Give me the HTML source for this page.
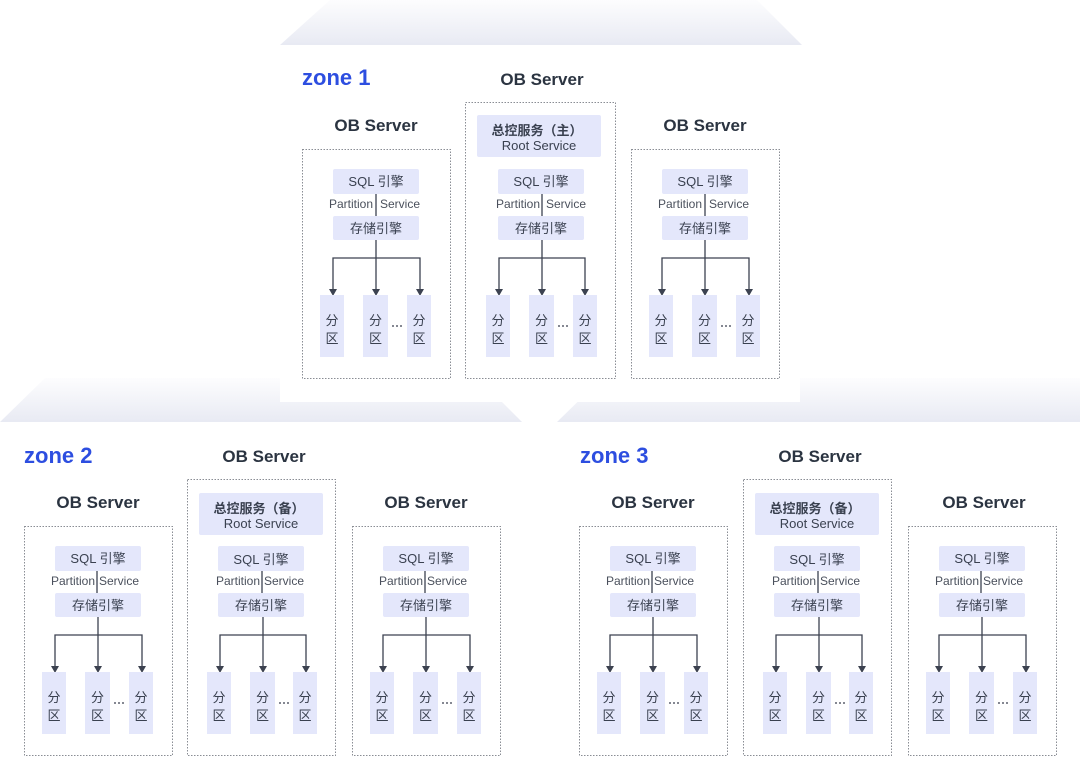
<!DOCTYPE html>
<html><head><meta charset="utf-8"><style>
html,body{margin:0;padding:0;background:#fff;}
svg{display:block;}
text{font-family:"Liberation Sans","Noto Sans CJK SC",sans-serif;}
.t{font-size:17px;fill:#2b3441;text-anchor:middle;font-weight:bold;}
.z{font-size:22px;fill:#2d4ee0;font-weight:bold;}
.s{font-size:13px;fill:#3a4150;text-anchor:middle;}
.p{font-size:12px;fill:#4a505c;}
.box{fill:none;stroke:#8a8d94;stroke-width:1;stroke-dasharray:1.5 1.5;}
.f{fill:#e4e7fb;}
.ln{stroke:#3c4250;stroke-width:1.3;fill:none;}
.ah{fill:#3c4250;}
</style></head><body>
<svg width="1080" height="780" viewBox="0 0 1080 780" xmlns="http://www.w3.org/2000/svg">
<defs>
<linearGradient id="g" x1="0" y1="0" x2="0" y2="1">
<stop offset="0" stop-color="#fdfdfe"/><stop offset="1" stop-color="#e8eaf3"/>
</linearGradient>
</defs>
<polygon points="45,378 478,378 522,422 0,422" fill="url(#g)"/>
<polygon points="602,378 1080,378 1080,422 557,422" fill="url(#g)"/>
<polygon points="330,0 757,0 802,45 280,45" fill="url(#g)"/>
<rect x="280" y="45" width="520" height="357" fill="#fff"/>

<text class="z" x="302" y="85">zone 1</text>
<text class="z" x="24" y="463">zone 2</text>
<text class="z" x="580" y="463">zone 3</text>

<!-- Zone1 left -->
<g transform="translate(302,149)">
<text class="t" x="74" y="-18">OB Server</text>
<rect class="box" x="0.5" y="0.5" width="148" height="229"/>
<rect class="f" x="31" y="20" width="86" height="25" rx="2"/><text class="s" x="74" y="37">SQL 引擎</text>
<text class="p" x="71" y="59" text-anchor="end">Partition</text><text class="p" x="78" y="59">Service</text>
<line class="ln" x1="74" y1="45" x2="74" y2="67"/>
<rect class="f" x="31" y="67" width="86" height="24" rx="2"/><text class="s" x="74" y="84">存储引擎</text>
<path class="ln" d="M74 91V109M31 140V109H118V140M74 109V140"/>
<path class="ah" d="M27 140h8l-4 7zM70 140h8l-4 7zM114 140h8l-4 7z"/>
<rect class="f" x="18" y="146" width="24" height="62"/><rect class="f" x="61" y="146" width="25" height="62"/><rect class="f" x="105" y="146" width="24" height="62"/>
<text class="s" x="30" y="176">分</text><text class="s" x="30" y="194">区</text>
<text class="s" x="73.5" y="176">分</text><text class="s" x="73.5" y="194">区</text>
<text class="s" x="117" y="176">分</text><text class="s" x="117" y="194">区</text>
<path class="ln" d="M90 177h2M94 177h2M98 177h2" stroke-width="2"/>
</g>
<!-- Zone1 middle -->
<g transform="translate(465,149)">
<text class="t" x="77" y="-64">OB Server</text>
<rect class="box" x="0.5" y="-46.5" width="150" height="276"/>
<rect class="f" x="12" y="-34" width="124" height="42" rx="2"/>
<text class="s" x="72" y="-14" style="font-weight:bold">总控服务（主）</text><text class="s" x="74" y="1">Root Service</text>
<rect class="f" x="33" y="20" width="86" height="25" rx="2"/><text class="s" x="76" y="37">SQL 引擎</text>
<text class="p" x="75" y="59" text-anchor="end">Partition</text><text class="p" x="81" y="59">Service</text>
<line class="ln" x1="77" y1="45" x2="77" y2="67"/>
<rect class="f" x="33" y="67" width="86" height="24" rx="2"/><text class="s" x="76" y="84">存储引擎</text>
<path class="ln" d="M77 91V109M34 140V109H120V140M77 109V140"/>
<path class="ah" d="M30 140h8l-4 7zM73 140h8l-4 7zM116 140h8l-4 7z"/>
<rect class="f" x="21" y="146" width="24" height="62"/><rect class="f" x="64" y="146" width="25" height="62"/><rect class="f" x="108" y="146" width="24" height="62"/>
<text class="s" x="33" y="176">分</text><text class="s" x="33" y="194">区</text>
<text class="s" x="76.5" y="176">分</text><text class="s" x="76.5" y="194">区</text>
<text class="s" x="120" y="176">分</text><text class="s" x="120" y="194">区</text>
<path class="ln" d="M93 177h2M97 177h2M101 177h2" stroke-width="2"/>
</g>
<!-- Zone1 right -->
<g transform="translate(631,149)">
<text class="t" x="74" y="-18">OB Server</text>
<rect class="box" x="0.5" y="0.5" width="148" height="229"/>
<rect class="f" x="31" y="20" width="86" height="25" rx="2"/><text class="s" x="74" y="37">SQL 引擎</text>
<text class="p" x="71" y="59" text-anchor="end">Partition</text><text class="p" x="78" y="59">Service</text>
<line class="ln" x1="74" y1="45" x2="74" y2="67"/>
<rect class="f" x="31" y="67" width="86" height="24" rx="2"/><text class="s" x="74" y="84">存储引擎</text>
<path class="ln" d="M74 91V109M31 140V109H118V140M74 109V140"/>
<path class="ah" d="M27 140h8l-4 7zM70 140h8l-4 7zM114 140h8l-4 7z"/>
<rect class="f" x="18" y="146" width="24" height="62"/><rect class="f" x="61" y="146" width="25" height="62"/><rect class="f" x="105" y="146" width="24" height="62"/>
<text class="s" x="30" y="176">分</text><text class="s" x="30" y="194">区</text>
<text class="s" x="73.5" y="176">分</text><text class="s" x="73.5" y="194">区</text>
<text class="s" x="117" y="176">分</text><text class="s" x="117" y="194">区</text>
<path class="ln" d="M90 177h2M94 177h2M98 177h2" stroke-width="2"/>
</g>

<!-- Zone2 left -->
<g transform="translate(24,526)">
<text class="t" x="74" y="-18">OB Server</text>
<rect class="box" x="0.5" y="0.5" width="148" height="229"/>
<rect class="f" x="31" y="20" width="86" height="25" rx="2"/><text class="s" x="74" y="37">SQL 引擎</text>
<text class="p" x="71" y="59" text-anchor="end">Partition</text><text class="p" x="75" y="59">Service</text>
<line class="ln" x1="73" y1="45" x2="73" y2="67"/>
<rect class="f" x="31" y="67" width="86" height="24" rx="2"/><text class="s" x="74" y="84">存储引擎</text>
<path class="ln" d="M74 91V109M31 140V109H118V140M74 109V140"/>
<path class="ah" d="M27 140h8l-4 7zM70 140h8l-4 7zM114 140h8l-4 7z"/>
<rect class="f" x="18" y="146" width="24" height="62"/><rect class="f" x="61" y="146" width="25" height="62"/><rect class="f" x="105" y="146" width="24" height="62"/>
<text class="s" x="30" y="176">分</text><text class="s" x="30" y="194">区</text>
<text class="s" x="73.5" y="176">分</text><text class="s" x="73.5" y="194">区</text>
<text class="s" x="117" y="176">分</text><text class="s" x="117" y="194">区</text>
<path class="ln" d="M90 177h2M94 177h2M98 177h2" stroke-width="2"/>
</g>
<!-- Zone2 middle -->
<g transform="translate(187,526)">
<text class="t" x="77" y="-64">OB Server</text>
<rect class="box" x="0.5" y="-46.5" width="148" height="276"/>
<rect class="f" x="12" y="-33" width="124" height="42" rx="2"/>
<text class="s" x="72" y="-13" style="font-weight:bold">总控服务（备）</text><text class="s" x="74" y="2">Root Service</text>
<rect class="f" x="31" y="20" width="86" height="25" rx="2"/><text class="s" x="74" y="38">SQL 引擎</text>
<text class="p" x="73" y="59" text-anchor="end">Partition</text><text class="p" x="77" y="59">Service</text>
<line class="ln" x1="75" y1="45" x2="75" y2="67"/>
<rect class="f" x="31" y="67" width="86" height="24" rx="2"/><text class="s" x="74" y="84">存储引擎</text>
<path class="ln" d="M76 91V109M33 140V109H119V140M76 109V140"/>
<path class="ah" d="M29 140h8l-4 7zM72 140h8l-4 7zM115 140h8l-4 7z"/>
<rect class="f" x="20" y="146" width="24" height="62"/><rect class="f" x="63" y="146" width="25" height="62"/><rect class="f" x="106" y="146" width="24" height="62"/>
<text class="s" x="32" y="176">分</text><text class="s" x="32" y="194">区</text>
<text class="s" x="75.5" y="176">分</text><text class="s" x="75.5" y="194">区</text>
<text class="s" x="118" y="176">分</text><text class="s" x="118" y="194">区</text>
<path class="ln" d="M92 177h2M96 177h2M100 177h2" stroke-width="2"/>
</g>
<!-- Zone2 right -->
<g transform="translate(352,526)">
<text class="t" x="74" y="-18">OB Server</text>
<rect class="box" x="0.5" y="0.5" width="148" height="229"/>
<rect class="f" x="31" y="20" width="86" height="25" rx="2"/><text class="s" x="74" y="37">SQL 引擎</text>
<text class="p" x="71" y="59" text-anchor="end">Partition</text><text class="p" x="75" y="59">Service</text>
<line class="ln" x1="73" y1="45" x2="73" y2="67"/>
<rect class="f" x="31" y="67" width="86" height="24" rx="2"/><text class="s" x="74" y="84">存储引擎</text>
<path class="ln" d="M74 91V109M31 140V109H118V140M74 109V140"/>
<path class="ah" d="M27 140h8l-4 7zM70 140h8l-4 7zM114 140h8l-4 7z"/>
<rect class="f" x="18" y="146" width="24" height="62"/><rect class="f" x="61" y="146" width="25" height="62"/><rect class="f" x="105" y="146" width="24" height="62"/>
<text class="s" x="30" y="176">分</text><text class="s" x="30" y="194">区</text>
<text class="s" x="73.5" y="176">分</text><text class="s" x="73.5" y="194">区</text>
<text class="s" x="117" y="176">分</text><text class="s" x="117" y="194">区</text>
<path class="ln" d="M90 177h2M94 177h2M98 177h2" stroke-width="2"/>
</g>

<!-- Zone3 left -->
<g transform="translate(579,526)">
<text class="t" x="74" y="-18">OB Server</text>
<rect class="box" x="0.5" y="0.5" width="148" height="229"/>
<rect class="f" x="31" y="20" width="86" height="25" rx="2"/><text class="s" x="74" y="37">SQL 引擎</text>
<text class="p" x="71" y="59" text-anchor="end">Partition</text><text class="p" x="75" y="59">Service</text>
<line class="ln" x1="73" y1="45" x2="73" y2="67"/>
<rect class="f" x="31" y="67" width="86" height="24" rx="2"/><text class="s" x="74" y="84">存储引擎</text>
<path class="ln" d="M74 91V109M31 140V109H118V140M74 109V140"/>
<path class="ah" d="M27 140h8l-4 7zM70 140h8l-4 7zM114 140h8l-4 7z"/>
<rect class="f" x="18" y="146" width="24" height="62"/><rect class="f" x="61" y="146" width="25" height="62"/><rect class="f" x="105" y="146" width="24" height="62"/>
<text class="s" x="30" y="176">分</text><text class="s" x="30" y="194">区</text>
<text class="s" x="73.5" y="176">分</text><text class="s" x="73.5" y="194">区</text>
<text class="s" x="117" y="176">分</text><text class="s" x="117" y="194">区</text>
<path class="ln" d="M90 177h2M94 177h2M98 177h2" stroke-width="2"/>
</g>
<!-- Zone3 middle -->
<g transform="translate(743,526)">
<text class="t" x="77" y="-64">OB Server</text>
<rect class="box" x="0.5" y="-46.5" width="148" height="276"/>
<rect class="f" x="12" y="-33" width="124" height="42" rx="2"/>
<text class="s" x="72" y="-13" style="font-weight:bold">总控服务（备）</text><text class="s" x="74" y="2">Root Service</text>
<rect class="f" x="31" y="20" width="86" height="25" rx="2"/><text class="s" x="74" y="38">SQL 引擎</text>
<text class="p" x="73" y="59" text-anchor="end">Partition</text><text class="p" x="77" y="59">Service</text>
<line class="ln" x1="75" y1="45" x2="75" y2="67"/>
<rect class="f" x="31" y="67" width="86" height="24" rx="2"/><text class="s" x="74" y="84">存储引擎</text>
<path class="ln" d="M76 91V109M33 140V109H119V140M76 109V140"/>
<path class="ah" d="M29 140h8l-4 7zM72 140h8l-4 7zM115 140h8l-4 7z"/>
<rect class="f" x="20" y="146" width="24" height="62"/><rect class="f" x="63" y="146" width="25" height="62"/><rect class="f" x="106" y="146" width="24" height="62"/>
<text class="s" x="32" y="176">分</text><text class="s" x="32" y="194">区</text>
<text class="s" x="75.5" y="176">分</text><text class="s" x="75.5" y="194">区</text>
<text class="s" x="118" y="176">分</text><text class="s" x="118" y="194">区</text>
<path class="ln" d="M92 177h2M96 177h2M100 177h2" stroke-width="2"/>
</g>
<!-- Zone3 right -->
<g transform="translate(908,526)">
<text class="t" x="76" y="-18">OB Server</text>
<rect class="box" x="0.5" y="0.5" width="148" height="229"/>
<rect class="f" x="31" y="20" width="86" height="25" rx="2"/><text class="s" x="74" y="37">SQL 引擎</text>
<text class="p" x="71" y="59" text-anchor="end">Partition</text><text class="p" x="75" y="59">Service</text>
<line class="ln" x1="73" y1="45" x2="73" y2="67"/>
<rect class="f" x="31" y="67" width="86" height="24" rx="2"/><text class="s" x="74" y="84">存储引擎</text>
<path class="ln" d="M74 91V109M31 140V109H118V140M74 109V140"/>
<path class="ah" d="M27 140h8l-4 7zM70 140h8l-4 7zM114 140h8l-4 7z"/>
<rect class="f" x="18" y="146" width="24" height="62"/><rect class="f" x="61" y="146" width="25" height="62"/><rect class="f" x="105" y="146" width="24" height="62"/>
<text class="s" x="30" y="176">分</text><text class="s" x="30" y="194">区</text>
<text class="s" x="73.5" y="176">分</text><text class="s" x="73.5" y="194">区</text>
<text class="s" x="117" y="176">分</text><text class="s" x="117" y="194">区</text>
<path class="ln" d="M90 177h2M94 177h2M98 177h2" stroke-width="2"/>
</g>
</svg>
</body></html>
